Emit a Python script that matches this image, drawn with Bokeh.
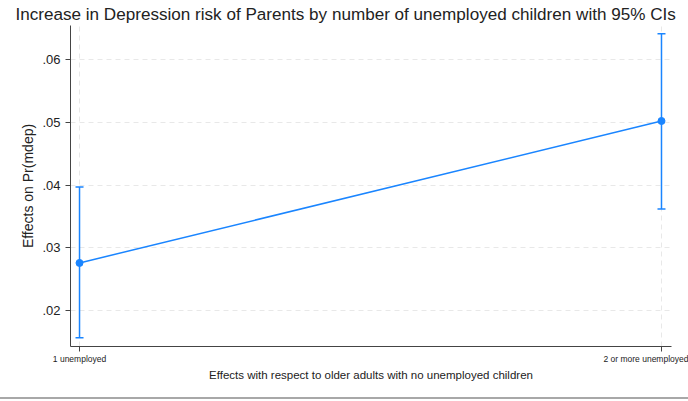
from bokeh.plotting import figure
from bokeh.models import FixedTicker, CustomJSTickFormatter, Range1d, Whisker, ColumnDataSource
from bokeh.embed import file_html
from bokeh.resources import INLINE

categories = ["1 unemployed", "2 or more unemployed"]
positions = [1, 2]
estimates = [0.0276, 0.0502]
lower = [0.0157, 0.0362]
upper = [0.0397, 0.0641]
y_ticks = [0.02, 0.03, 0.04, 0.05, 0.06]

src = ColumnDataSource(dict(x=positions, y=estimates, lo=lower, hi=upper))

color = "#1a85ff"
font = "Liberation Sans"

p = figure(width=688, height=399, output_backend="svg", toolbar_location=None,
           x_range=Range1d(0.9845, 2.0172), y_range=Range1d(0.0143, 0.0654),
           min_border_left=70, min_border_right=17, min_border_top=25, min_border_bottom=53)
p.styles = {"border-bottom": "2px solid #a8a8a8"}

p.title.text = "Increase in Depression risk of Parents by number of unemployed children with 95% CIs"
p.title.align = "left"
p.title.offset = -55
p.title.text_font = font
p.title.text_font_size = "17.1px"
p.title.text_font_style = "normal"
p.title.text_color = "#222222"
p.title.standoff = 3
p.outline_line_color = None

p.line("x", "y", source=src, line_color=color, line_width=1.5)
w = Whisker(source=src, base="x", lower="lo", upper="hi", line_color=color, line_width=1.5)
w.upper_head.line_color = color
w.lower_head.line_color = color
w.upper_head.size = 8
w.lower_head.size = 8
w.upper_head.line_width = 1.5
w.lower_head.line_width = 1.5
p.add_layout(w)
p.scatter("x", "y", source=src, size=7, color=color)

p.xaxis.ticker = FixedTicker(ticks=positions)
p.xaxis.major_label_overrides = {positions[i]: categories[i] for i in range(len(positions))}
p.xaxis.axis_label = "Effects with respect to older adults with no unemployed children"
p.xaxis.major_label_text_font_size = "8.5px"
p.xaxis.axis_label_text_font_size = "11.5px"
p.xaxis.axis_label_standoff = 2
p.xaxis.major_label_standoff = 2

p.yaxis.ticker = FixedTicker(ticks=y_ticks)
p.yaxis.formatter = CustomJSTickFormatter(code="return tick.toFixed(2).replace(/^0/, '');")
p.yaxis.axis_label = "Effects on Pr(mdep)"
p.yaxis.major_label_text_font_size = "13px"
p.yaxis.axis_label_text_font_size = "14px"
p.yaxis.major_label_orientation = "horizontal"
p.yaxis.axis_label_standoff = 3

for ax in (p.xaxis[0], p.yaxis[0]):
    ax.major_label_text_font = font
    ax.axis_label_text_font = font
    ax.axis_label_text_font_style = "normal"
    ax.major_label_text_color = "#222222"
    ax.axis_label_text_color = "#222222"
    ax.axis_line_color = "#444444"
    ax.major_tick_line_color = "#444444"
    ax.major_tick_out = 5
    ax.major_tick_in = 0
    ax.minor_tick_line_color = None

p.xgrid.ticker = FixedTicker(ticks=positions)
p.ygrid.ticker = FixedTicker(ticks=y_ticks)
for g in (p.xgrid[0], p.ygrid[0]):
    g.grid_line_color = "#e8e8e8"
    g.grid_line_dash = "5 4"
    g.grid_line_width = 1

open("out.html", "w").write(file_html(p, INLINE))
